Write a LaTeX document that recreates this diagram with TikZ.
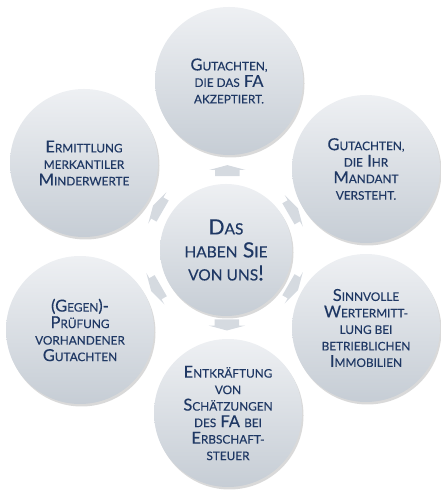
\documentclass[tikz,border=0pt]{standalone}
\usepackage{fontspec}
\setmainfont{Lato}[RawFeature={embolden=0.3}]
\usetikzlibrary{positioning, calc, shapes.arrows, shadows}
\definecolor{textblau}{HTML}{1F3864}
\definecolor{kreishell}{HTML}{EEF0F3}
\definecolor{kreisdunkel}{HTML}{C6CDD5}
\definecolor{pfeilgrau}{HTML}{D5DAE0}
\newcommand{\klsize}{11.8pt}
\newcommand{\kl}[1]{{\fontsize{\klsize}{\klsize}\selectfont\MakeUppercase{#1}}}

\begin{document}
\begin{tikzpicture}[
    x=1pt, y=1pt,
    kreis/.style={circle, top color=kreishell, bottom color=kreisdunkel,
        minimum size=148pt, inner sep=0pt, align=center, text=textblau,
        font=\fontsize{16.5}{16.5}\selectfont,
        drop shadow={shadow xshift=1.5pt, shadow yshift=-2.5pt,
                     opacity=0.15, fill=black}},
    zentrum/.style={kreis, minimum size=132pt,
        font=\fontsize{21}{23}\selectfont\renewcommand{\klsize}{15.5pt}},
    pfeil/.style={single arrow, fill=pfeilgrau, minimum height=11pt,
        inner xsep=0pt, inner ysep=12pt, single arrow head extend=6pt,
        single arrow tip angle=150}
  ]
  \useasboundingbox (0,0) rectangle (440,494);

  \node[zentrum] (mitte) at (226,244)
    {D\kl{as}\\\kl{haben} S\kl{ie}\\\kl{von uns}!};

  \node[kreis] (oben) at (229,413)
    {G\kl{utachten,}\\\kl{die das} FA\\\kl{akzeptiert.}};
  \node[kreis] (rechtsoben) at (366,325)
    {G\kl{utachten,}\\\kl{die} I\kl{hr}\\M\kl{andant}\\\kl{versteht.}};
  \node[kreis] (rechtsunten) at (366,166)
    {S\kl{innvolle}\\W\kl{ertermitt-}\\\kl{lung bei}\\\kl{betrieblichen}\\I\kl{mmobilien}};
  \node[kreis] (unten) at (228,81)
    {E\kl{ntkräftung}\\\kl{von}\\S\kl{chätzungen}\\\kl{des} FA \kl{bei}\\E\kl{rbschaft-}\\\kl{steuer}};
  \node[kreis] (linksunten) at (80,164)
    {(G\kl{egen})-\\P\kl{rüfung}\\\kl{vorhandener}\\G\kl{utachten}};
  \node[kreis] (linksoben) at (84,331)
    {E\kl{rmittlung}\\\kl{merkantiler}\\M\kl{inderwerte}};

  % Pfeile von der Mitte nach aussen
  \node[pfeil, rotate=90] (p-oben) at ($(mitte)!0.46!(oben)$) {};
  \node[pfeil, rotate=30] (p-rechtsoben) at ($(mitte)!0.47!(rechtsoben)$) {};
  \node[pfeil, rotate=-30] (p-rechtsunten) at ($(mitte)!0.47!(rechtsunten)$) {};
  \node[pfeil, rotate=-90] (p-unten) at ($(mitte)!0.45!(unten)$) {};
  \node[pfeil, rotate=-150] (p-linksunten) at ($(mitte)!0.47!(linksunten)$) {};
  \node[pfeil, rotate=150] (p-linksoben) at ($(mitte)!0.47!(linksoben)$) {};
\end{tikzpicture}
\end{document}
